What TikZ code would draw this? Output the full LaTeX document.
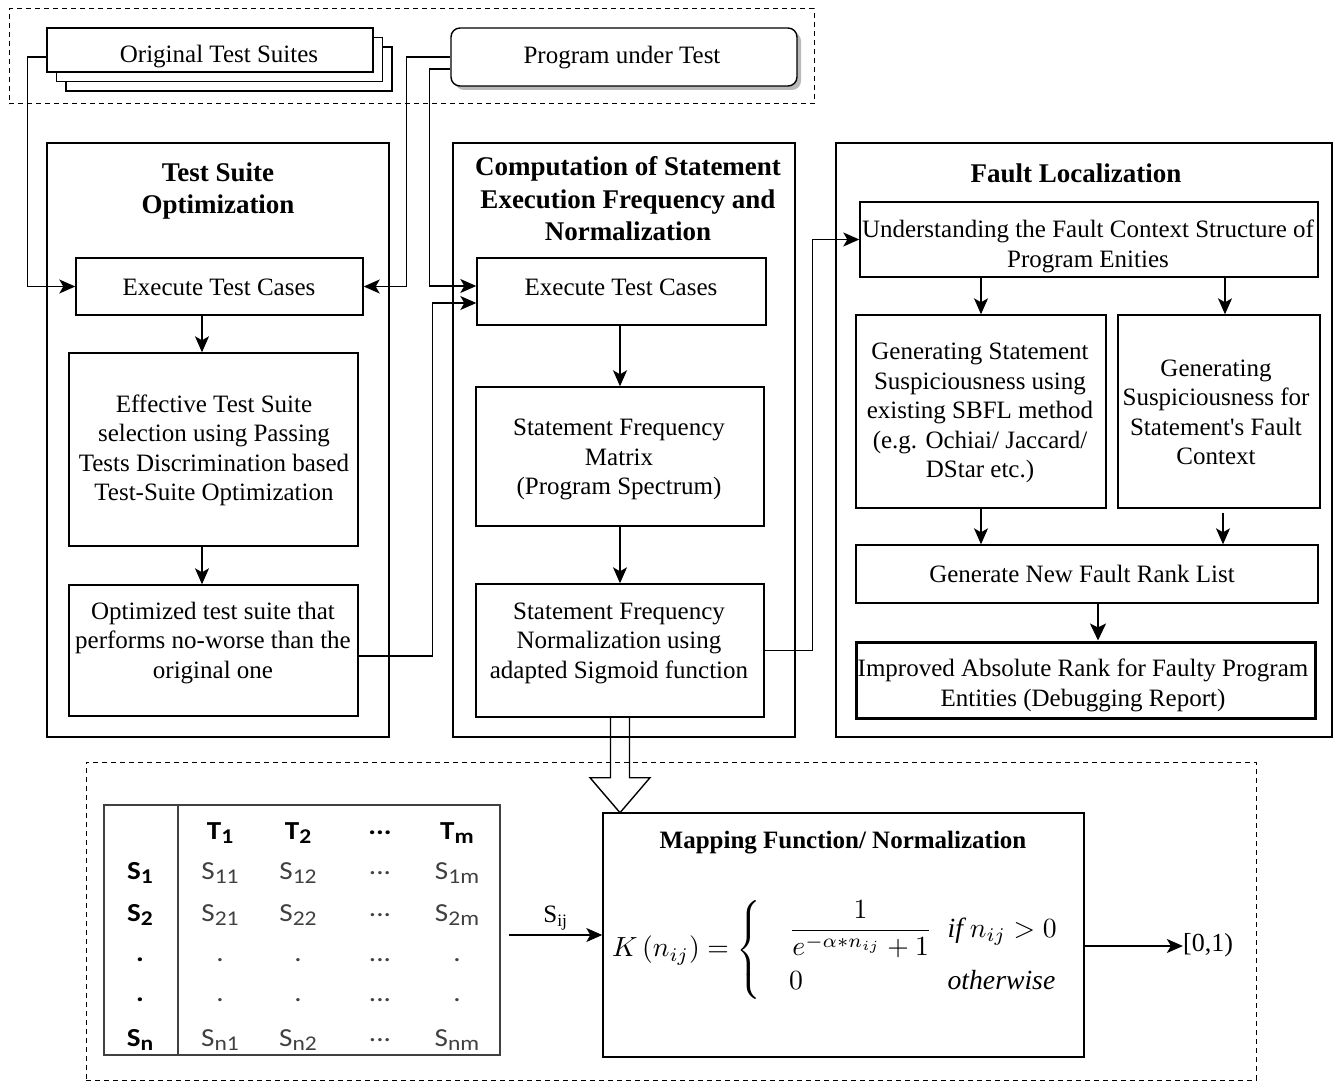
\documentclass[tikz,border=0pt]{standalone}
\usepackage{fontspec}
\setmainfont{Liberation Serif}
\newfontfamily\calib{Carlito}[FakeStretch=1.12]
\usepackage{amsmath}
\usepackage{graphicx}
\usetikzlibrary{arrows.meta,calc}
\definecolor{mgray}{HTML}{404040}
\newcommand\msb[1]{\raisebox{-4pt}{\fontsize{21}{21}\selectfont #1}}
\begin{document}
\begin{tikzpicture}[x=1pt,y=-1pt,
 box/.style={draw,line width=1.4pt,inner sep=0pt},
 txt/.style={align=center,font=\fontsize{25}{29.5}\selectfont,inner sep=0pt},
 ttl/.style={align=center,font=\bfseries\fontsize{27}{32.5}\selectfont,inner sep=0pt},
 arr/.style={line width=1.4pt,-{Stealth[length=16pt,width=14pt,inset=4pt]}},
 dbox/.style={draw,line width=1pt,dash pattern=on 5pt off 4pt,inner sep=0pt},
 mlab/.style={font=\calib\bfseries\fontsize{26}{26}\selectfont,inner sep=0pt},
 ment/.style={font=\calib\fontsize{26}{26}\selectfont,text=mgray,inner sep=0pt}]
\useasboundingbox (0,0) rectangle (1334,1083);

% group frames
\node[dbox,minimum width=805pt,minimum height=95pt] (topgrp) at (411.5,56.5) {};
\node[dbox,minimum width=1170pt,minimum height=318pt] (botgrp) at (671,921) {};

% inputs
\node[box,fill=white,minimum width=326pt,minimum height=44pt] (ots3) at (229,69) {};
\node[box,fill=white,minimum width=326pt,minimum height=44pt] (ots2) at (219.5,59.5) {};
\node[box,fill=white,minimum width=326pt,minimum height=44pt] (ots) at (210,50) {};
\node[txt] (otsT) at (219,57) {Original Test Suites};
\node[fill=gray!55,rounded corners=9pt,minimum width=346pt,minimum height=58pt,inner sep=0pt] (putS) at (628,61) {};
\node[box,fill=white,rounded corners=9pt,minimum width=346pt,minimum height=58pt] (put) at (624,57) {};
\node[txt] (putT) at (622,58) {Program under Test};

% outer panels
\node[box,minimum width=342pt,minimum height=594pt] (outL) at (218,440) {};
\node[box,minimum width=342pt,minimum height=594pt] (outM) at (624,440) {};
\node[box,minimum width=496pt,minimum height=594pt] (outR) at (1084,440) {};
\node[ttl] (tsoT) at (218,191) {Test Suite\\Optimization};
\node[ttl] (compT) at (628,199) {Computation of Statement\\Execution Frequency and\\Normalization};
\node[ttl] (flT) at (1076,173) {Fault Localization};

% left panel
\node[box,minimum width=287pt,minimum height=57pt] (etcL) at (219.5,286.5) {};
\node[txt] (etcLT) at (219,287) {Execute Test Cases};
\node[box,minimum width=289pt,minimum height=193pt] (eff) at (213.5,449.5) {};
\node[txt] (effT) at (214,450.5) {Effective Test Suite\\selection using Passing\\Tests Discrimination based\\Test-Suite Optimization};
\node[box,minimum width=289pt,minimum height=131pt] (opt) at (213.5,650.5) {};
\node[txt] (optT) at (213,643) {Optimized test suite that\\performs no-worse than the\\original one};

% middle panel
\node[box,minimum width=289pt,minimum height=67pt] (etcM) at (621.5,291.5) {};
\node[txt] (etcMT) at (621,287) {Execute Test Cases};
\node[box,minimum width=288pt,minimum height=139pt] (sfm) at (620,456.5) {};
\node[txt] (sfmT) at (619,459.5) {Statement Frequency\\Matrix\\(Program Spectrum)};
\node[box,minimum width=288pt,minimum height=133pt] (norm) at (620,650.5) {};
\node[txt] (normT) at (619,643) {Statement Frequency\\Normalization using\\adapted Sigmoid function};

% right panel
\node[box,minimum width=458pt,minimum height=75pt] (und) at (1089,239.5) {};
\node[txt] (undT) at (1088,246.5) {Understanding the Fault Context Structure of\\Program Enities};
\node[box,minimum width=250pt,minimum height=193pt] (gss) at (981,411.5) {};
\node[txt] (gssT) at (980,413) {Generating Statement\\Suspiciousness using\\existing SBFL method\\(e.g. Ochiai/ Jaccard/\\DStar etc.)};
\node[box,minimum width=202pt,minimum height=193pt] (gsf) at (1219,411.5) {};
\node[txt] (gsfT) at (1216,412.5) {Generating\\Suspiciousness for\\Statement\textquotesingle s Fault\\Context};
\node[box,minimum width=462pt,minimum height=58pt] (gnf) at (1087,574) {};
\node[txt] (gnfT) at (1082,574) {Generate New Fault Rank List};
\node[box,line width=3pt,minimum width=459pt,minimum height=76pt] (imp) at (1085.5,680) {};
\node[txt] (impT) at (1083,685.5) {Improved Absolute Rank for Faulty Program\\Entities (Debugging Report)};

% connectors
\draw[arr] ([yshift=-7pt]ots.west) -- ++(-19,0) |- (etcL.west);
\draw[arr] (put.west) -- ++(-44,0) |- (etcL.east);
\draw[arr] ([yshift=-12pt]put.west) -- ++(-21,0) |- ([yshift=5.5pt]etcM.west);
\draw[arr] ([yshift=-5.5pt]opt.east) -- ++(74,0) |- ([yshift=-11.5pt]etcM.west);
\draw[arr] ([xshift=-11.5pt]eff.north |- etcL.south) -- ([xshift=-11.5pt]eff.north);
\draw[arr] ([xshift=-11.5pt]eff.south) -- ([xshift=-11.5pt]opt.north);
\draw[arr] (etcM.south -| sfm.north) -- (sfm.north);
\draw[arr] (sfm.south) -- (norm.north);
\draw[arr] (norm.east) -- ++(48,0) |- (und.west);
\draw[arr] (gss.north |- und.south) -- (gss.north);
\draw[arr] ([xshift=6pt]gsf.north |- und.south) -- ([xshift=6pt]gsf.north);
\draw[arr] (gss.south) -- (gss.south |- gnf.north);
\draw[arr] ([xshift=4pt,yshift=-4pt]gsf.south) -- ([xshift=4pt]gsf.south |- gnf.north);
\draw[line width=2pt,-{Stealth[length=17pt,width=16pt,inset=4pt]}] ([xshift=11pt]gnf.south) -- ([xshift=11pt]gnf.south |- imp.north);

% block arrow
\draw[line width=1.4pt,line join=miter] ([xshift=-9.5pt]norm.south) -- ++(0,60) -- ++(-20.5,0) -- ++(30,35) -- ++(30,-35) -- ++(-20.5,0) -- ++(0,-60);

% matrix
\node[draw=mgray,line width=1.4pt,minimum width=396pt,minimum height=250pt,inner sep=0pt] (mat) at (302,930) {};
\draw[line width=1.4pt,draw=mgray] (178,0 |- mat.north) -- (178,0 |- mat.south);
\node[mlab] (h1) at (220,833) {T\msb{1}};
\node[mlab] (h2) at (298,833) {T\msb{2}};
\node[mlab] (h3) at (380,833) {...};
\node[mlab] (h4) at (457,833) {T\msb{m}};
\node[mlab] (r1) at (140,873) {S\msb{1}};
\node[mlab] (r2) at (140,915) {S\msb{2}};
\node[mlab] (r3) at (140,960) {.};
\node[mlab] (r4) at (140,1000) {.};
\node[mlab] (r5) at (140,1040) {S\msb{n}};
\node[ment] (e11) at (220,873) {S\msb{11}};
\node[ment] (e12) at (298,873) {S\msb{12}};
\node[ment] (e13) at (380,873) {...};
\node[ment] (e14) at (457,873) {S\msb{1m}};
\node[ment] (e21) at (220,915) {S\msb{21}};
\node[ment] (e22) at (298,915) {S\msb{22}};
\node[ment] (e23) at (380,915) {...};
\node[ment] (e24) at (457,915) {S\msb{2m}};
\node[ment] (e31) at (220,960) {.};
\node[ment] (e32) at (298,960) {.};
\node[ment] (e33) at (380,960) {...};
\node[ment] (e34) at (457,960) {.};
\node[ment] (e41) at (220,1000) {.};
\node[ment] (e42) at (298,1000) {.};
\node[ment] (e43) at (380,1000) {...};
\node[ment] (e44) at (457,1000) {.};
\node[ment] (e51) at (220,1040) {S\msb{n1}};
\node[ment] (e52) at (298,1040) {S\msb{n2}};
\node[ment] (e53) at (380,1040) {...};
\node[ment] (e54) at (457,1040) {S\msb{nm}};

% mapping
\node[box,minimum width=481pt,minimum height=244pt] (map) at (843.5,935) {};
\node[inner sep=0pt,font=\bfseries\fontsize{25}{28}\selectfont] (mapT) at (843,843) {Mapping Function/ Normalization};
\node[inner sep=0pt] (form) at (843,950) {\resizebox{462pt}{!}{$\displaystyle K\left(n_{ij}\right)=\left\{\begin{array}{@{\quad}l@{\;\;}l}\dfrac{1}{e^{-\alpha * n_{ij}}+1} & \mathit{if}\ n_{ij}>0\\[7pt] 0 & \mathit{otherwise}\end{array}\right.$}};
\draw[arr] ([xshift=8pt,yshift=-5pt]mat.east) -- node[above=4pt,inner sep=0pt,font=\fontsize{25}{25}\selectfont] (sij) {S\textsubscript{ij}} ([yshift=0pt]map.west);
\node[inner sep=0pt,font=\fontsize{26}{26}\selectfont] (rng) at (1208,945) {[0,1)};
\draw[arr] ([yshift=-11pt]map.east) -- (rng.west |- 0,946);
\end{tikzpicture}
\end{document}
